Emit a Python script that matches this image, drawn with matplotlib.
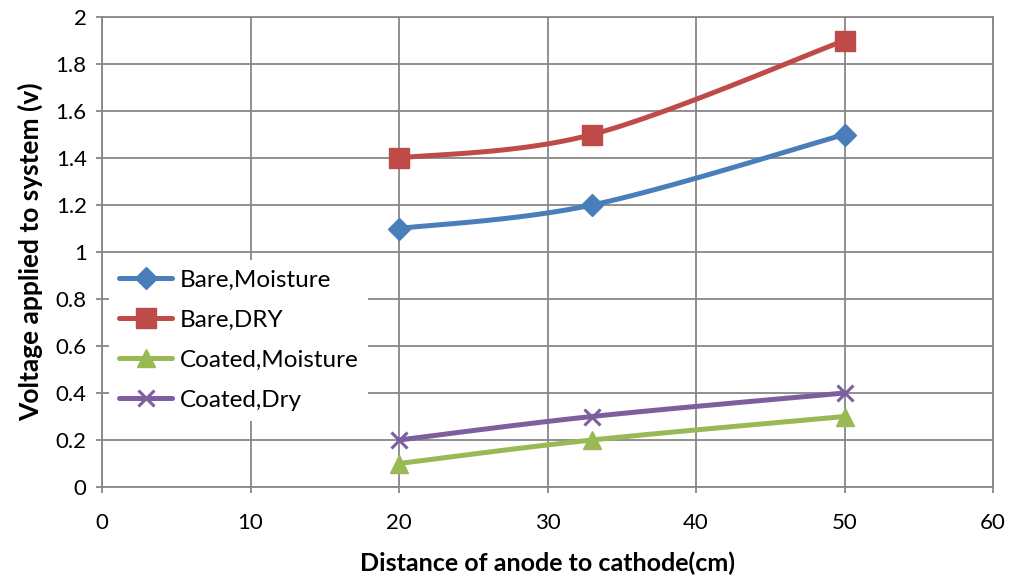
import numpy as np
import matplotlib
matplotlib.use("Agg")
import matplotlib.pyplot as plt

plt.rcParams['font.family'] = ['Lato', 'DejaVu Sans']

x = [20, 33, 50]
bare_moisture = [1.1, 1.2, 1.5]
bare_dry = [1.4, 1.5, 1.9]
coated_moisture = [0.1, 0.2, 0.3]
coated_dry = [0.2, 0.3, 0.4]
labels = ['Bare,Moisture', 'Bare,DRY', 'Coated,Moisture', 'Coated,Dry']
colors = ['#4A7EBB', '#BE4B48', '#98B954', '#7D5FA0']
markers = ['D', 's', '^', 'x']
msizes = [11.5, 14, 13, 12]

def smooth(xs, ys, n=40):
    p = np.column_stack([xs, ys]).astype(float)
    p = np.vstack([p[0], p, p[-1]])
    out = []
    for i in range(1, len(p) - 2):
        p0, p1, p2, p3 = p[i-1], p[i], p[i+1], p[i+2]
        c1 = p1 + (p2 - p0) / 6
        c2 = p2 - (p3 - p1) / 6
        t = np.linspace(0, 1, n)[:, None]
        seg = (1-t)**3*p1 + 3*(1-t)**2*t*c1 + 3*(1-t)*t**2*c2 + t**3*p2
        out.append(seg if i == 1 else seg[1:])
    s = np.vstack(out)
    return s[:, 0], s[:, 1]

fig = plt.figure(figsize=(10.13, 5.78), dpi=100)
ax = fig.add_axes([102/1013, 1-487/578, (993-102)/1013, (487-17)/578])

series = [bare_moisture, bare_dry, coated_moisture, coated_dry]
handles = []
LW = 3.6
for ys, lab, c, m, ms in zip(series, labels, colors, markers, msizes):
    sx, sy = smooth(x, ys)
    mew = 2.2 if m == 'x' else 1
    ax.plot(sx, sy, color=c, lw=LW, solid_capstyle='round', zorder=3)
    ax.plot(x, ys, ls='none', marker=m, color=c, ms=ms, mew=mew, zorder=4)
    h, = ax.plot([], [], color=c, lw=LW, marker=m, ms=ms, mew=mew,
                 solid_capstyle='round', label=lab)
    handles.append(h)

ax.set_xlim(0, 60)
ax.set_ylim(0, 2)
ax.set_xticks(range(0, 61, 10))
ax.set_yticks(np.arange(0, 2.01, 0.2))
ax.set_yticklabels(['0', '0.2', '0.4', '0.6', '0.8', '1', '1.2', '1.4', '1.6', '1.8', '2'])
ax.grid(True, color='#878787', lw=1.3)
ax.set_axisbelow(True)
for s in ax.spines.values():
    s.set_color('#878787')
    s.set_linewidth(1.3)
ax.tick_params(axis='both', direction='out', length=4, color='#878787', width=1.3,
               labelsize=16, colors='black')
ax.tick_params(axis='x', pad=15)
ax.tick_params(axis='y', pad=7)
ax.set_xlabel('Distance of anode to cathode(cm)', fontsize=18, fontweight='bold', labelpad=13)
ax.set_ylabel('Voltage applied to system (v)', fontsize=19, fontweight='bold', labelpad=9)

leg = ax.legend(handles=handles, loc='upper left', bbox_to_anchor=(0.0, 0.498),
                fontsize=17.5, frameon=True, facecolor='white', edgecolor='none',
                framealpha=1, handlelength=2.2, handletextpad=0.3, labelspacing=0.78,
                borderaxespad=0.3, borderpad=0.4, fancybox=False)

fig.savefig('out.png', dpi=100)
